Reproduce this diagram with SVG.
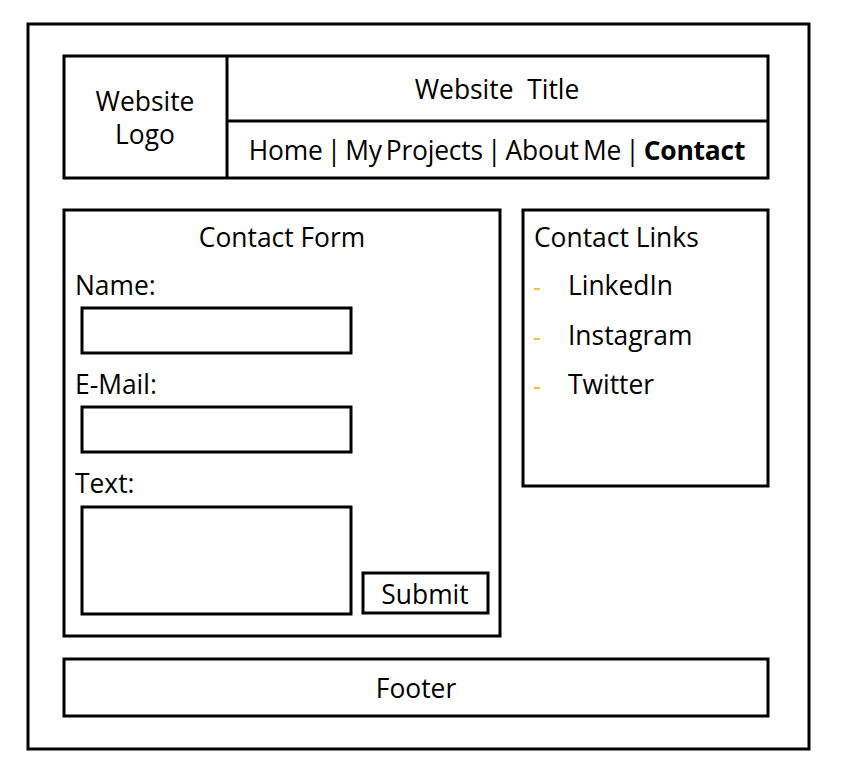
<svg xmlns="http://www.w3.org/2000/svg" width="843" height="774" viewBox="0 0 843 774">
  <style>
    .box { fill: #ffffff; stroke: #000000; stroke-width: 3; }
    .t { font-family: "Open Sans", "Noto Sans", "Liberation Sans", sans-serif; font-size: 26.4px; fill: #000000; }
    .c { text-anchor: middle; }
    .nav { word-spacing: -2.5px; letter-spacing: -0.2px; }
    .dash { stroke: #f0a800; stroke-width: 1.5; }
  </style>
  <rect width="843" height="774" fill="#ffffff"/>

  <g id="page">
    <rect class="box" x="28" y="24" width="781" height="725"/>
  </g>

  <g id="header">
    <rect class="box" x="64" y="56" width="704" height="122"/>
    <line x1="227" y1="56" x2="227" y2="178" stroke="#000" stroke-width="3"/>
    <line x1="227" y1="121" x2="768" y2="121" stroke="#000" stroke-width="3"/>
  </g>

  <g id="logo">
    <text class="t c" x="145" y="111">Website</text>
    <text class="t c" x="145" y="144">Logo</text>
  </g>

  <g id="title">
    <text class="t c" x="497" y="99" xml:space="preserve">Website  Title</text>
  </g>

  <g id="nav">
    <text class="t c nav" x="497" y="160">Home | My Projects | About Me | <tspan font-weight="bold">Contact</tspan></text>
  </g>

  <g id="contact-form">
    <rect class="box" x="64" y="210" width="436" height="426"/>
    <text class="t c" x="282" y="247">Contact Form</text>
    <text class="t" x="75" y="295">Name:</text>
    <rect class="box" x="82" y="308" width="269" height="45"/>
    <text class="t" x="75" y="394">E-Mail:</text>
    <rect class="box" x="82" y="407" width="269" height="45"/>
    <text class="t" x="75" y="493">Text:</text>
    <rect class="box" x="82" y="507" width="269" height="107"/>
  </g>

  <g id="submit">
    <rect class="box" x="363" y="573" width="125" height="40"/>
    <text class="t c" x="425" y="604">Submit</text>
  </g>

  <g id="contact-links">
    <rect class="box" x="523" y="210" width="245" height="276"/>
    <text class="t" x="534" y="247">Contact Links</text>
    <line class="dash" x1="534" y1="289" x2="540" y2="289"/>
    <text class="t" x="568" y="295">LinkedIn</text>
    <line class="dash" x1="534" y1="339" x2="540" y2="339"/>
    <text class="t" x="568" y="345">Instagram</text>
    <line class="dash" x1="534" y1="388" x2="540" y2="388"/>
    <text class="t" x="568" y="394">Twitter</text>
  </g>

  <g id="footer">
    <rect class="box" x="64" y="659" width="704" height="57"/>
    <text class="t c" x="416" y="698">Footer</text>
  </g>

  <g id="connectors"/>
</svg>
